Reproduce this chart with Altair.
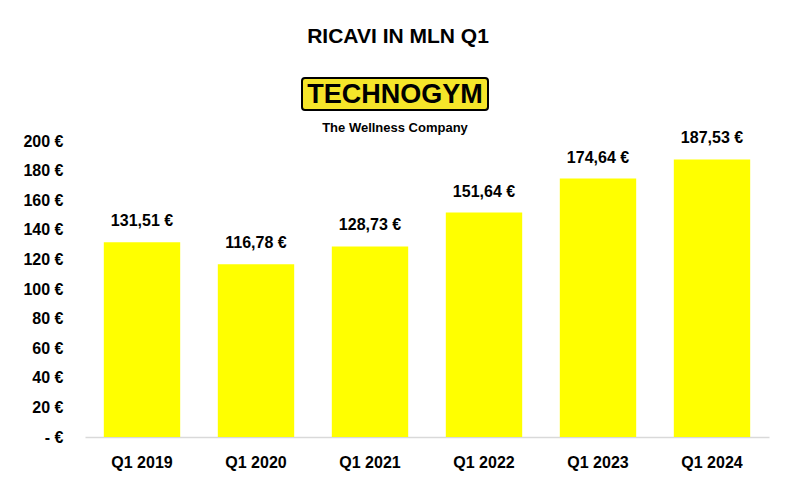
import altair as alt
import pandas as pd

categories = ["Q1 2019", "Q1 2020", "Q1 2021", "Q1 2022", "Q1 2023", "Q1 2024"]
values = [131.51, 116.78, 128.73, 151.64, 174.64, 187.53]
y_ticks = [0, 20, 40, 60, 80, 100, 120, 140, 160, 180, 200]

title_text = "RICAVI IN MLN Q1"
logo_text = "TECHNOGYM"
tagline_text = "The Wellness Company"

df = pd.DataFrame({"cat": categories, "v": values})
one = pd.DataFrame({"a": [0]})

FONT = "Liberation Sans"

x = alt.X("cat:N", sort=categories, title=None,
          scale=alt.Scale(paddingInner=0.33, paddingOuter=0.165),
          axis=alt.Axis(labelAngle=0, labelFont=FONT, labelFontSize=16,
                        labelFontWeight="bold", labelColor="#000000",
                        labelPadding=17, ticks=False, domainColor="#d9d9d9",
                        domainWidth=1.5))
y = alt.Y("v:Q", title=None,
          scale=alt.Scale(domain=[0, 200]),
          axis=alt.Axis(values=y_ticks, grid=False, domain=False,
                        ticks=False, labelFont=FONT, labelFontSize=16,
                        labelFontWeight="bold", labelColor="#000000",
                        labelPadding=22, labelOverlap=False,
                        labelExpr="datum.value == 0 ? '- €' : datum.value + ' €'"))

bars = alt.Chart(df).mark_bar(color="#FFFF00").encode(x=x, y=y)

labels = alt.Chart(df).transform_calculate(
    lab="replace(format(datum.v, '.2f'), '.', ',') + ' €'"
).mark_text(font=FONT, fontSize=16, fontWeight="bold", color="#000000",
            baseline="bottom", dy=-13).encode(x=x, y=y, text="lab:N")

title = alt.Chart(one).mark_text(font=FONT, fontSize=21, fontWeight="bold",
                                 color="#000000", baseline="middle", align="center").encode(
    x=alt.value(313), y=alt.value(-104), text=alt.value(title_text))

logo_box = alt.Chart(one).mark_rect(fill="#F5E52A", stroke="#000000", strokeWidth=2,
                                    cornerRadius=3).encode(
    x=alt.value(217), x2=alt.value(403), y=alt.value(-63), y2=alt.value(-31))

logo = alt.Chart(one).mark_text(font=FONT, fontSize=27, fontWeight="bold",
                                color="#000000", baseline="middle", align="center").encode(
    x=alt.value(310), y=alt.value(-46), text=alt.value(logo_text))

tagline = alt.Chart(one).mark_text(font=FONT, fontSize=13, fontWeight="bold",
                                   color="#000000", baseline="middle", align="center").encode(
    x=alt.value(310), y=alt.value(-13), text=alt.value(tagline_text))

chart = alt.layer(bars, labels, title, logo_box, logo, tagline).properties(
    width=684, height=296,
    autosize=alt.AutoSizeParams(type="none"),
    padding={"left": 77, "top": 133, "right": 19, "bottom": 47},
    background="#ffffff",
).configure_view(stroke=None)

chart.save("out.html", embed_options={"renderer": "svg", "actions": False})
